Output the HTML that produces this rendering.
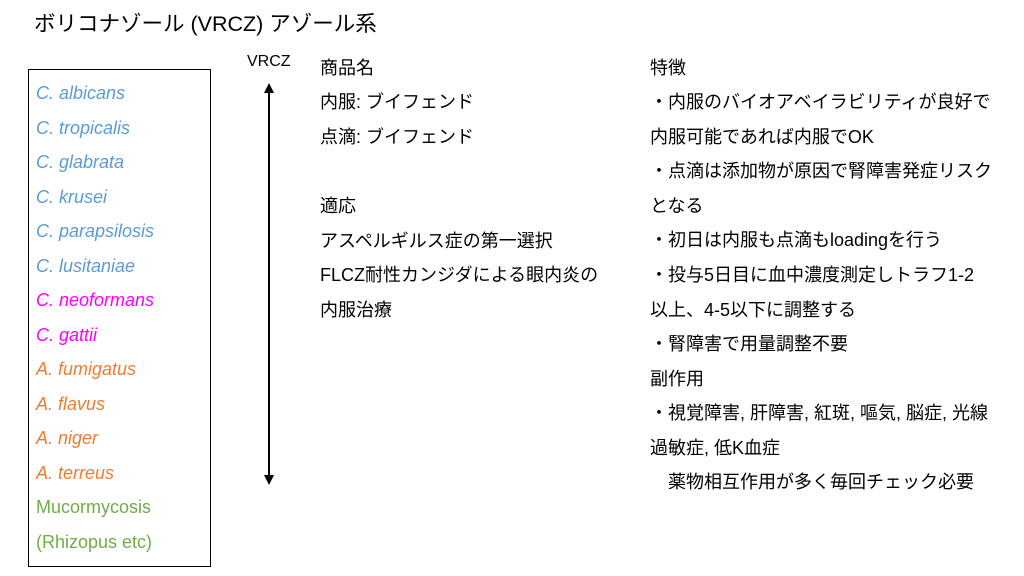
<!DOCTYPE html>
<html><head><meta charset="utf-8"><style>
body{margin:0;width:1024px;height:576px;background:#fff;position:relative;overflow:hidden;font-family:"Liberation Sans","Noto Sans CJK JP",sans-serif;color:#000}
.t{position:absolute;white-space:nowrap;font-size:18px;line-height:20px}
.i{font-style:italic}
.b{color:#5b9bd5}.m{color:#ff00ff}.o{color:#ed7d31}.g{color:#70ad47}
</style></head><body>
<div class="t" style="left:34px;top:11px;font-size:21.5px;line-height:26px">ボリコナゾール (VRCZ) アゾール系</div>
<div style="position:absolute;left:28px;top:69px;width:181px;height:496px;border:1px solid #000"></div>
<div class="t i b" style="left:36px;top:83px">C. albicans</div>
<div class="t i b" style="left:36px;top:118px">C. tropicalis</div>
<div class="t i b" style="left:36px;top:152px">C. glabrata</div>
<div class="t i b" style="left:36px;top:187px">C. krusei</div>
<div class="t i b" style="left:36px;top:221px">C. parapsilosis</div>
<div class="t i b" style="left:36px;top:256px">C. lusitaniae</div>
<div class="t i m" style="left:36px;top:290px">C. neoformans</div>
<div class="t i m" style="left:36px;top:325px">C. gattii</div>
<div class="t i o" style="left:36px;top:359px">A. fumigatus</div>
<div class="t i o" style="left:36px;top:394px">A. flavus</div>
<div class="t i o" style="left:36px;top:428px">A. niger</div>
<div class="t i o" style="left:36px;top:463px">A. terreus</div>
<div class="t g" style="left:36px;top:497px">Mucormycosis</div>
<div class="t g" style="left:36px;top:532px">(Rhizopus etc)</div>
<div class="t" style="left:247px;top:52px;font-size:16px">VRCZ</div>
<svg style="position:absolute;left:0;top:0" width="1024" height="576">
<line x1="269" y1="92" x2="269" y2="476" stroke="#000" stroke-width="2"/>
<polygon points="264,93 274,93 269,83" fill="#000"/>
<polygon points="264,475 274,475 269,485" fill="#000"/>
</svg>
<div class="t" style="left:320px;top:58px">商品名</div>
<div class="t" style="left:320px;top:92px">内服: ブイフェンド</div>
<div class="t" style="left:320px;top:127px">点滴: ブイフェンド</div>
<div class="t" style="left:320px;top:196px">適応</div>
<div class="t" style="left:320px;top:231px">アスペルギルス症の第一選択</div>
<div class="t" style="left:320px;top:265px">FLCZ耐性カンジダによる眼内炎の</div>
<div class="t" style="left:320px;top:300px">内服治療</div>
<div class="t" style="left:650px;top:58px">特徴</div>
<div class="t" style="left:650px;top:92px">・内服のバイオアベイラビリティが良好で</div>
<div class="t" style="left:650px;top:127px">内服可能であれば内服でOK</div>
<div class="t" style="left:650px;top:161px">・点滴は添加物が原因で腎障害発症リスク</div>
<div class="t" style="left:650px;top:196px">となる</div>
<div class="t" style="left:650px;top:230px">・初日は内服も点滴もloadingを行う</div>
<div class="t" style="left:650px;top:265px">・投与5日目に血中濃度測定しトラフ1-2</div>
<div class="t" style="left:650px;top:300px">以上、4-5以下に調整する</div>
<div class="t" style="left:650px;top:334px">・腎障害で用量調整不要</div>
<div class="t" style="left:650px;top:369px">副作用</div>
<div class="t" style="left:650px;top:403px">・視覚障害, 肝障害, 紅斑, 嘔気, 脳症, 光線</div>
<div class="t" style="left:650px;top:438px">過敏症, 低K血症</div>
<div class="t" style="left:668px;top:472px">薬物相互作用が多く毎回チェック必要</div>
</body></html>
